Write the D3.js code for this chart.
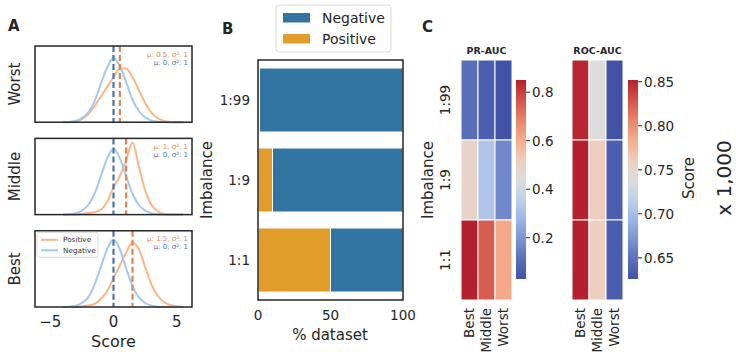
<!DOCTYPE html>
<html>
<head>
<meta charset="utf-8">
<script src="https://cdn.jsdelivr.net/npm/d3@7"></script>
<style>
  body { margin: 0; background: #fff; }
  text { font-family: "DejaVu Sans", sans-serif; }
</style>
</head>
<body>
<div id="container"></div>
<script>
const W = 736, H = 358;
const ink = "#262626";

// ---------- Data ----------
// Panel A: estimated density curves (x grid in score units)
const gridX = [-4, -3.5, -3, -2.5, -2, -1.5, -1, -0.5, 0, 0.5, 1, 1.5, 2, 2.5, 3, 3.5, 4, 4.5, 5, 5.5];
const rows = ["Worst", "Middle", "Best"];
const negDensity = {
  Worst:  [0, 0.002, 0.008, 0.025, 0.06, 0.13, 0.24, 0.34, 0.40, 0.35, 0.25, 0.14, 0.07, 0.03, 0.01, 0.003, 0, 0, 0, 0],
  Middle: [0, 0.002, 0.008, 0.025, 0.06, 0.13, 0.24, 0.35, 0.41, 0.35, 0.24, 0.13, 0.06, 0.025, 0.008, 0.002, 0, 0, 0, 0],
  Best:   [0, 0.002, 0.008, 0.025, 0.06, 0.14, 0.25, 0.36, 0.42, 0.36, 0.24, 0.13, 0.06, 0.025, 0.008, 0.002, 0, 0, 0, 0]
};
const posDensity = {
  Worst:  [0, 0.001, 0.005, 0.02, 0.05, 0.10, 0.16, 0.22, 0.28, 0.335, 0.335, 0.28, 0.20, 0.12, 0.06, 0.025, 0.008, 0.002, 0, 0],
  Middle: [0, 0, 0.001, 0.004, 0.01, 0.015, 0.03, 0.08, 0.17, 0.24, 0.34, 0.45, 0.30, 0.15, 0.06, 0.02, 0.004, 0, 0, 0],
  Best:   [0, 0, 0, 0.005, 0.01, 0.02, 0.05, 0.10, 0.18, 0.26, 0.34, 0.40, 0.36, 0.25, 0.14, 0.07, 0.03, 0.012, 0.004, 0]
};
const posMean = { Worst: 0.5, Middle: 1, Best: 1.5 };
const negMean = { Worst: 0, Middle: 0, Best: 0 };
const scoreTicks = [-5, 0, 5];

// Panel B: class share per imbalance level (%)
const imbalance = ["1:99", "1:9", "1:1"];
const positivePct = [1, 10, 50];
const negativePct = [99, 90, 50];
const pctTicks = [0, 50, 100];

// Panel C: heatmap scores, rows = imbalance, cols = model
const models = ["Best", "Middle", "Worst"];
const prAuc = [
  [0.11, 0.063, 0.03],
  [0.49, 0.317, 0.17],
  [0.85, 0.75, 0.61]
];
const rocAuc = [
  [0.849, 0.739, 0.626],
  [0.852, 0.762, 0.635],
  [0.852, 0.760, 0.634]
];
const prTicks = [0.2, 0.4, 0.6, 0.8];
const rocTicks = [0.65, 0.70, 0.75, 0.80, 0.85];

// ---------- SVG ----------
const svg = d3.select("#container").append("svg")
  .attr("width", W).attr("height", H);
const defs = svg.append("defs");

function label(x, y, txt, opts = {}) {
  const t = svg.append("text")
    .attr("x", x).attr("y", y)
    .attr("fill", opts.fill || ink)
    .attr("text-anchor", opts.anchor || "start")
    .style("font-size", (opts.size || 13) + "px")
    .text(txt);
  if (opts.bold) t.style("font-weight", "bold");
  if (opts.rotate) t.attr("transform", `rotate(-90,${x},${y})`);
  if (opts.baseline) t.attr("dominant-baseline", opts.baseline);
  return t;
}

// ---------- Panel A ----------
label(8, 31, "A", { size: 15, bold: true });
const aLeft = 35, aRight = 192;
const xA = d3.scaleLinear().domain([-6.2, 6.2]).range([aLeft, aRight]);
const boxY = d3.scaleBand().domain(rows).range([46, 307]).paddingInner(0.175);
const colNeg = "#a1c9f4", colPos = "#ffb482";
const dashNeg = "#4c72b0", dashPos = "#dd8452";

rows.forEach(r => {
  const top = boxY(r), bh = boxY.bandwidth();
  const yA = d3.scaleLinear().domain([0, 0.475]).range([top + bh, top]);
  const g = svg.append("g");
  const line = d3.line().x((d, i) => xA(gridX[i])).y(d => yA(d)).curve(d3.curveMonotoneX);
  g.append("path").datum(posDensity[r]).attr("d", line)
    .attr("fill", "none").attr("stroke", colPos).attr("stroke-width", 2);
  g.append("path").datum(negDensity[r]).attr("d", line)
    .attr("fill", "none").attr("stroke", colNeg).attr("stroke-width", 2);
  g.append("line").attr("x1", xA(negMean[r])).attr("x2", xA(negMean[r]))
    .attr("y1", top).attr("y2", top + bh)
    .attr("stroke", dashNeg).attr("stroke-width", 2.2).attr("stroke-dasharray", "6,3");
  g.append("line").attr("x1", xA(posMean[r])).attr("x2", xA(posMean[r]))
    .attr("y1", top).attr("y2", top + bh)
    .attr("stroke", dashPos).attr("stroke-width", 2.2).attr("stroke-dasharray", "6,3");
  g.append("rect").attr("x", aLeft).attr("y", top).attr("width", aRight - aLeft).attr("height", bh)
    .attr("fill", "none").attr("stroke", ink).attr("stroke-width", 1.5);

  // mean / variance annotations
  label(aRight - 4, top + 10.5, `μ: ${posMean[r]}, σ²: 1`, { size: 7, anchor: "end", fill: dashPos });
  label(aRight - 4, top + 18.5, `μ: ${negMean[r]}, σ²: 1`, { size: 7, anchor: "end", fill: dashNeg });

  label(20, top + bh / 2, r, { size: 15, anchor: "middle", rotate: true });
});

// legend in Best panel
{
  const top = boxY("Best");
  svg.append("rect").attr("x", 37).attr("y", top + 1.5).attr("width", 61).attr("height", 25)
    .attr("rx", 2).attr("fill", "#fff").attr("fill-opacity", 0.8)
    .attr("stroke", "#d0d0d0").attr("stroke-width", 0.8);
  [["Positive", colPos], ["Negative", colNeg]].forEach(([name, c], i) => {
    const y = top + 9 + i * 10.5;
    svg.append("line").attr("x1", 41).attr("x2", 58).attr("y1", y).attr("y2", y)
      .attr("stroke", c).attr("stroke-width", 2);
    label(63, y + 2.5, name, { size: 7.3, fill: "#333" });
  });
}

scoreTicks.forEach(v => {
  label(xA(v), 327, v < 0 ? "−" + Math.abs(v) : String(v), { size: 15, anchor: "middle" });
});
label(xA(0), 347, "Score", { size: 16, anchor: "middle" });

// ---------- Panel B ----------
label(222, 34, "B", { size: 15, bold: true });
const bL = 258, bR = 403, bT = 60, bB = 300;
const xB = d3.scaleLinear().domain([0, 100]).range([bL, bR]);
const yB = d3.scaleBand().domain(imbalance).range([bT, bB]).paddingInner(0.2).paddingOuter(0.1);
const colNegB = "#3274a1", colPosB = "#e19c2a";

imbalance.forEach((k, i) => {
  svg.append("rect").attr("x", xB(0)).attr("y", yB(k))
    .attr("width", xB(positivePct[i]) - xB(0)).attr("height", yB.bandwidth())
    .attr("fill", colPosB).attr("stroke", "#fff").attr("stroke-width", 1);
  svg.append("rect").attr("x", xB(positivePct[i])).attr("y", yB(k))
    .attr("width", xB(positivePct[i] + negativePct[i]) - xB(positivePct[i])).attr("height", yB.bandwidth())
    .attr("fill", colNegB).attr("stroke", "#fff").attr("stroke-width", 1);
  label(250, yB(k) + yB.bandwidth() / 2 + 5, k, { size: 13.5, anchor: "end" });
});
svg.append("rect").attr("x", bL).attr("y", bT).attr("width", bR - bL).attr("height", bB - bT)
  .attr("fill", "none").attr("stroke", ink).attr("stroke-width", 1.5);
pctTicks.forEach(v => label(xB(v), 320, String(v), { size: 13.5, anchor: "middle" }));
label(330, 340, "% dataset", { size: 15, anchor: "middle" });
label(212, 180, "Imbalance", { size: 15, anchor: "middle", rotate: true });

// legend B
svg.append("rect").attr("x", 276).attr("y", 5).attr("width", 115).attr("height", 47)
  .attr("rx", 3).attr("fill", "#fff").attr("stroke", "#d8d8d8").attr("stroke-width", 1);
[["Negative", colNegB], ["Positive", colPosB]].forEach(([name, c], i) => {
  const y = 13 + i * 21;
  svg.append("rect").attr("x", 283).attr("y", y).attr("width", 27).attr("height", 9.5).attr("fill", c);
  label(322, y + 9.5, name, { size: 14 });
});

// ---------- Panel C ----------
label(422, 32, "C", { size: 15, bold: true });
const coolwarm = d3.piecewise(d3.interpolateRgb,
  ["#4252a7", "#5a70bb", "#7a94d2", "#9cb6e4", "#bfd1ec", "#dcdcdc",
   "#efcdbd", "#f5ab8d", "#e98468", "#d2524a", "#b4202d"]);

function heatmap(data, x0, x1, title, cbX, ticks, gradId, fmt) {
  const flat = data.flat();
  const ext = d3.extent(flat);
  const color = d3.scaleSequential(coolwarm).domain(ext);
  const xs = d3.scaleBand().domain(models).range([x0, x1]);
  const ys = d3.scaleBand().domain(imbalance).range([60, 300]);
  data.forEach((row, i) => row.forEach((v, j) => {
    svg.append("rect").attr("x", xs(models[j])).attr("y", ys(imbalance[i]))
      .attr("width", xs.bandwidth()).attr("height", ys.bandwidth())
      .attr("fill", color(v)).attr("stroke", "#fff").attr("stroke-width", 1);
  }));
  label((x0 + x1) / 2, 54, title, { size: 9.5, bold: true, anchor: "middle" });
  models.forEach(m => {
    label(xs(m) + xs.bandwidth() / 2, 308, m, { size: 13.5, anchor: "end", rotate: true, baseline: "middle" });
  });

  // colorbar
  const cbT = 80, cbB = 279;
  const grad = defs.append("linearGradient").attr("id", gradId)
    .attr("x1", "0%").attr("x2", "0%").attr("y1", "100%").attr("y2", "0%");
  for (let i = 0; i <= 20; i++) {
    grad.append("stop").attr("offset", `${i * 5}%`).attr("stop-color", coolwarm(i / 20));
  }
  svg.append("rect").attr("x", cbX).attr("y", cbT).attr("width", 10).attr("height", cbB - cbT)
    .attr("fill", `url(#${gradId})`);
  const yc = d3.scaleLinear().domain(ext).range([cbB, cbT]);
  ticks.forEach(t => {
    svg.append("line").attr("x1", cbX + 10).attr("x2", cbX + 14)
      .attr("y1", yc(t)).attr("y2", yc(t)).attr("stroke", ink).attr("stroke-width", 1);
    label(cbX + 16, yc(t) + 5, fmt(t), { size: 13.5 });
  });
}

heatmap(prAuc, 461, 512, "PR-AUC", 516, prTicks, "gPR", d3.format(".1f"));
heatmap(rocAuc, 572, 623, "ROC-AUC", 628, rocTicks, "gROC", d3.format(".2f"));

imbalance.forEach((k, i) => {
  label(450, 100 + i * 80, k, { size: 13.5, anchor: "middle", rotate: true });
});
label(433, 180, "Imbalance", { size: 15, anchor: "middle", rotate: true });
label(694, 178, "Score", { size: 15, anchor: "middle", rotate: true });
label(731, 178, "x 1,000", { size: 20, anchor: "middle", rotate: true });
</script>
</body>
</html>
